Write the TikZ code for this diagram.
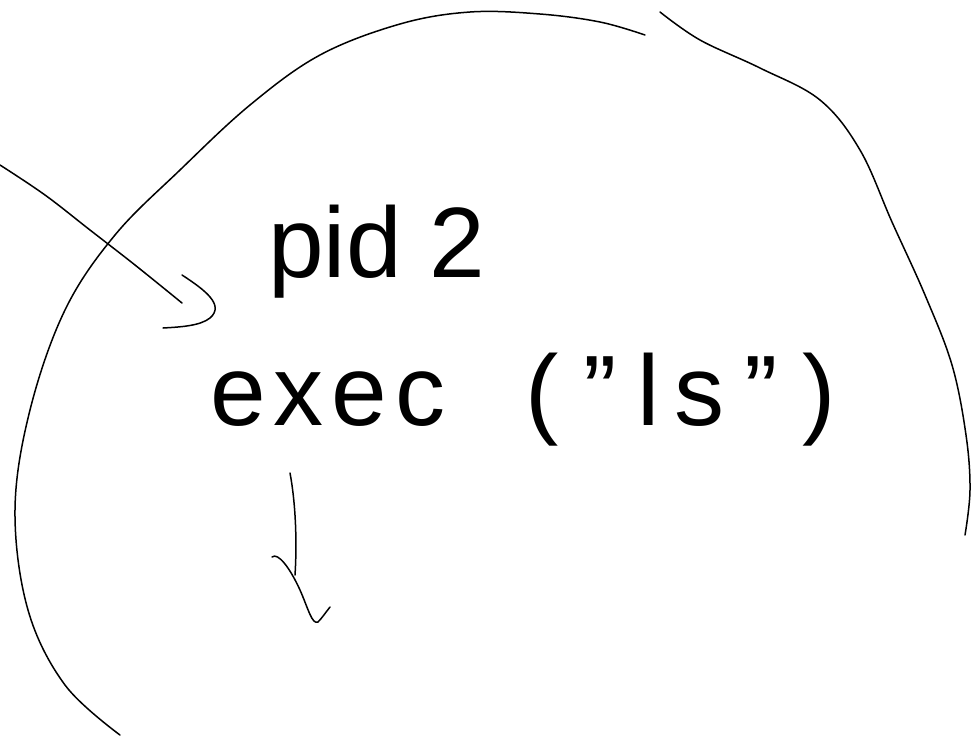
\documentclass[tikz,border=0pt]{standalone}
\usepackage{fontspec}
\setmainfont{Liberation Sans}
\begin{document}
\begin{tikzpicture}[x=1pt,y=-1pt,
  stroke/.style={line width=1.5pt,line cap=round,line join=round},
  hand/.style={inner sep=0pt,font=\fontsize{100}{100}\selectfont}]
\useasboundingbox (0,0) rectangle (972,740);
% big enclosing arcs
\draw[stroke] plot[smooth,tension=0.6] coordinates {(645,35) (600,22) (540,14) (470,12) (400,24) (320,55) (250,105) (180,170) (115,235) (65,310) (30,410) (15,510) (28,610) (65,685) (120,735)};
\draw[stroke] plot[smooth,tension=0.6] coordinates {(660,12) (700,40) (760,68) (820,100) (860,150) (892,222) (925,295) (952,365) (966,435) (970,490) (965,535)};
% texts
\node[hand,anchor=west] (pid) at (268,252) {pid 2};
\node[hand,anchor=west] (exec) at (210,400) {e\hspace{8pt}x\hspace{8pt}e\hspace{8pt}c\hspace{80pt}(\hspace{25pt}\symbol{34}\hspace{20pt}l\hspace{15pt}s\hspace{20pt}\symbol{34}\hspace{25pt})};
% incoming arrow
\coordinate (src) at (0,165);
\coordinate (tip) at (182,303);
\draw[stroke] plot[smooth,tension=0.6] coordinates {(src) (45,195) (90,230) (135,265) (tip)};
\draw[stroke] (182,275) .. controls (205,290) and (225,305) .. (210,318) .. controls (200,326) and (180,327) .. (163,328);
% outgoing arrow
\coordinate (down) at (295,575);
\draw[stroke] (290,473) .. controls (296,505) and (297,545) .. (down);
\draw[stroke] (272,557) .. controls (278,552) and (290,568) .. (300,590) .. controls (308,608) and (312,625) .. (318,622) .. controls (322,618) and (326,612) .. (330,607);
\end{tikzpicture}
\end{document}
